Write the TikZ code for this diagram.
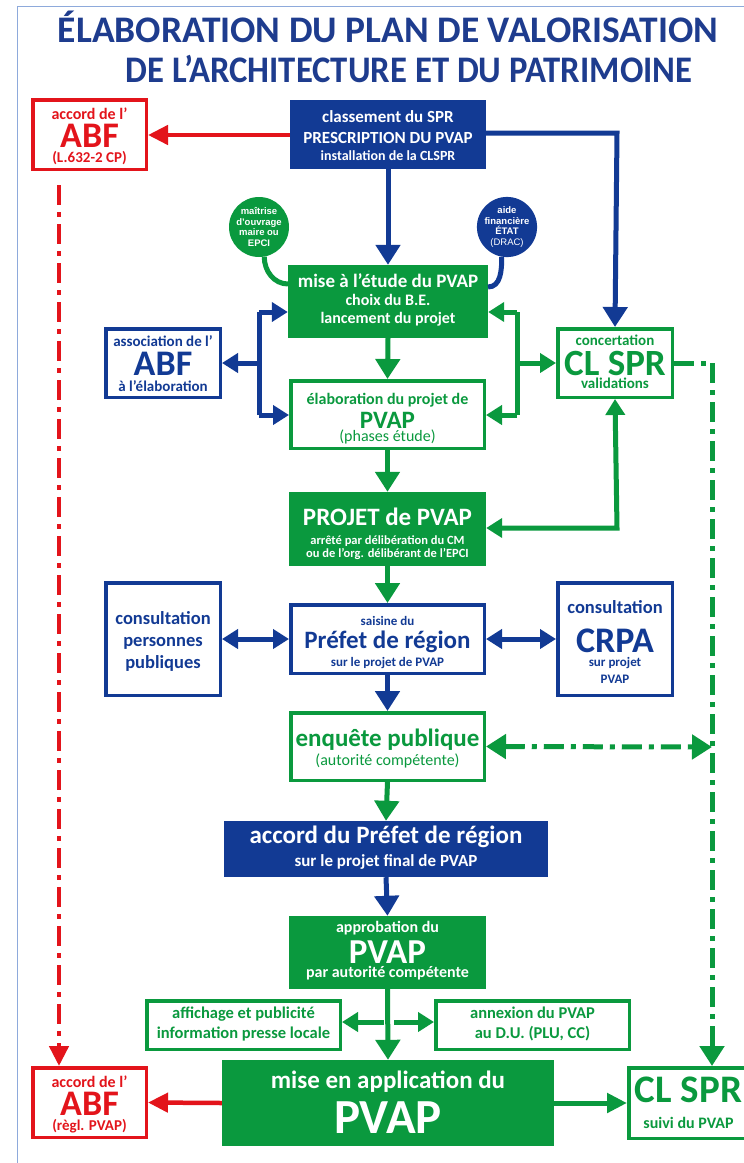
\documentclass[tikz,border=0pt]{standalone}
\usepackage{fontspec}
\setmainfont{Carlito}
\newfontfamily\arialf{Liberation Sans}
\usetikzlibrary{arrows.meta,calc}
\definecolor{pblue}{HTML}{123A94}
\definecolor{pgreen}{HTML}{0A993E}
\definecolor{pred}{HTML}{E3141B}
\definecolor{tblue}{HTML}{1E3C8E}
\definecolor{pframe}{HTML}{8EAADB}
% a centred stack of lines, each with a fixed height above its baseline
\newdimen\mytmpdim
\newcommand\Stack[1]{\vbox{\baselineskip=0pt\lineskip=0pt\lineskiplimit=0pt\halign{\hfil##\hfil\cr#1\crcr}}}
\newcommand\Ln[3]{\fontsize{#1}{#1}\selectfont\smash{#3}\rule{0pt}{#2pt}}
\newcommand\Ld[4]{\mytmpdim=#2pt\advance\mytmpdim by #3pt\relax\fontsize{#1}{#1}\selectfont\smash{#4}\rule[-#3pt]{0pt}{\mytmpdim}}
\begin{document}
\begin{tikzpicture}[x=1pt,y=-1pt,
  every node/.style={inner sep=0pt, font=\bfseries\fontsize{14}{17}\selectfont},
  bfill/.style={fill=pblue, text=white},
  gfill/.style={fill=pgreen, text=white},
  bout/.style={draw=pblue, line width=3.5pt, fill=white, text=pblue},
  gout/.style={draw=pgreen, line width=3.5pt, fill=white, text=pgreen},
  rout/.style={draw=pred, line width=3.5pt, fill=white, text=pred},
  circtext/.style={circle, align=center, minimum size=60pt, text=white, font=\arialf\bfseries\fontsize{9.5}{10.5}\selectfont},
  bcon/.style={draw=pblue, line width=5pt},
  gcon/.style={draw=pgreen, line width=5pt},
  rcon/.style={draw=pred, line width=4.5pt},
  bigtip/.style={-{Triangle[length=20pt,width=24pt]}},
  smalltip/.style={-{Triangle[length=16pt,width=19pt]}},
  dbltip/.style={{Triangle[length=16pt,width=19pt]}-{Triangle[length=16pt,width=19pt]}},
  rtip/.style={-{Triangle[length=20pt,width=19pt]}},
  dashdot/.style={dash pattern=on 20pt off 7pt on 5pt off 7pt},
  titletext/.style={text=tblue, anchor=base, font=\bfseries\fontsize{37.5}{37.5}\selectfont},
]
\useasboundingbox (0,0) rectangle (744,1163);
\fill[white] (0,0) rectangle (744,1163);
% frame
\draw[pframe, line width=1pt] (17,1163) -- (17,6) -- (744,6);
% title
\node[titletext] (t1) at (388,42) {ÉLABORATION DU PLAN DE VALORISATION};
\node[titletext, xscale=0.925] (t2) at (409,82) {DE L’ARCHITECTURE ET DU PATRIMOINE};

% boxes
\node[rout, minimum width=113.5pt, minimum height=69.5pt] (abf1) at (89.5,134.5)
  {\Stack{\Ln{16}{19.25}{accord de l’}\cr\Ln{36}{28}{ABF}\cr\Ld{15}{15}{7.25}{(L.632-2 CP)}}};
\node[bfill, minimum width=196pt, minimum height=69pt] (top) at (388,134.5)
  {\Stack{\Ln{17}{22}{classement du SPR}\cr\Ln{17}{21}{PRESCRIPTION DU PVAP}\cr\Ld{14}{17}{9}{installation de la CLSPR}}};
\node[circtext, fill=pgreen] (c1) at (259,227)
  {maîtrise\\d’ouvrage\\maire ou\\EPCI};
\node[circtext, fill=pblue] (c2) at (507,227)
  {aide\\financière\\ÉTAT\\{\mdseries(DRAC)}};
\node[gfill, minimum width=200pt, minimum height=73pt] (mise) at (388,301.5)
  {\Stack{\Ln{19}{22}{mise à l’étude du PVAP}\cr\Ln{16}{18}{choix du B.E.}\cr\Ld{16}{18}{15}{lancement du projet}}};
\node[bout, minimum width=114.5pt, minimum height=68.5pt] (abfa) at (163,363)
  {\Stack{\Ln{15}{17.25}{association de l’}\cr\Ln{36}{29}{ABF}\cr\Ld{15}{16}{6.25}{à l’élaboration}}};
\node[gout, minimum width=114.5pt, minimum height=68.5pt] (clspr) at (615,363)
  {\Stack{\Ln{15}{16.25}{concertation}\cr\Ln{37}{30}{CL SPR}\cr\Ld{15}{13}{9.25}{validations}}};
\node[gout, minimum width=193.5pt, minimum height=67.5pt] (elab) at (387.5,414.5)
  {\Stack{\Ln{16}{23.25}{élaboration du projet de}\cr\Ln{25}{24}{PVAP}\cr\Ld{16}{13}{7.25}{\mdseries(phases étude)}}};
\node[gfill, minimum width=197pt, minimum height=74pt] (projet) at (387.5,529)
  {\Stack{\Ln{25}{33}{PROJET de PVAP}\cr\Ln{12.5}{19}{arrêté par délibération du CM}\cr\Ld{12.5}{13}{9}{ou de l’org. délibérant de l’EPCI}}};
\node[bout, minimum width=114.5pt, minimum height=112.5pt] (cpp) at (163,639)
  {\Stack{\Ln{18.5}{41.25}{consultation}\cr\Ln{18.5}{22}{personnes}\cr\Ld{18.5}{22}{27.25}{publiques}}};
\node[bout, minimum width=193.5pt, minimum height=68.5pt] (saisine) at (387.5,639)
  {\Stack{\Ln{13}{20.25}{saisine du}\cr\Ln{25}{23}{Préfet de région}\cr\Ld{13}{18}{7.25}{sur le projet de PVAP}}};
\node[bout, minimum width=114.5pt, minimum height=112.5pt] (crpa) at (615,639)
  {\Stack{\Ln{18.5}{30.25}{consultation}\cr\Ln{36}{39}{CRPA}\cr\Ln{13}{14}{sur projet}\cr\Ld{13}{17}{12.25}{PVAP}}};
\node[gout, minimum width=193.5pt, minimum height=67.5pt] (enq) at (387.5,746.5)
  {\Stack{\Ln{25}{33.25}{enquête publique}\cr\Ld{16}{19}{15.25}{\mdseries(autorité compétente)}}};
\node[bfill, minimum width=324pt, minimum height=56pt] (accord) at (386,849)
  {\Stack{\Ln{25}{22}{accord du Préfet de région}\cr\Ld{17}{23}{11}{sur le projet final de PVAP}}};
\node[gfill, minimum width=197pt, minimum height=73pt] (approb) at (387.5,952.5)
  {\Stack{\Ln{16}{16}{approbation du}\cr\Ln{35}{31}{PVAP}\cr\Ld{16}{14}{12}{par autorité compétente}}};
\node[gout, minimum width=193.5pt, minimum height=48.5pt] (affi) at (243.5,1025)
  {\Stack{\Ln{16.5}{17.25}{affichage et publicité}\cr\Ld{16.5}{20}{11.25}{information presse locale}}};
\node[gout, minimum width=193.5pt, minimum height=48.5pt] (annex) at (532.5,1025)
  {\Stack{\Ln{16.5}{17.25}{annexion du PVAP}\cr\Ld{16.5}{20}{11.25}{au D.U. (PLU, CC)}}};
\node[gfill, minimum width=332pt, minimum height=86pt] (app) at (388,1103)
  {\Stack{\Ln{25}{28}{mise en application du}\cr\Ld{49}{45}{13}{PVAP}}};
\node[rout, minimum width=113.5pt, minimum height=69.5pt] (abf2) at (89.5,1102.5)
  {\Stack{\Ln{16}{19.25}{accord de l’}\cr\Ln{36}{28}{ABF}\cr\Ld{15}{15}{7.25}{(règl. PVAP)}}};
\node[gout, minimum width=119.5pt, minimum height=70.5pt] (clspr2) at (688.5,1103)
  {\Stack{\Ln{39}{34.25}{CL SPR}\cr\Ld{16}{26}{10.25}{suivi du PVAP}}};

% junction coordinates
\coordinate (jlt) at (259,312);
\coordinate (jlb) at (259,415);
\coordinate (jlm) at (259,363);
\coordinate (jrt) at (517,312);
\coordinate (jrb) at (517,415);
\coordinate (jrm) at (517,363);
\coordinate (cbend) at (617,133);
\coordinate (pbend) at (617,528);
\coordinate (rdtop) at (59,185);
\coordinate (gdtop) at (712,363);
\coordinate (edash) at (712,747);
\coordinate (m1) at (288,284);
\coordinate (m2) at (488,287);
\coordinate (split) at (389,1022);

% connectors
\draw[rcon, rtip] (top.west |- 0,135) -- (abf1.east |- 0,135);
\draw[rcon, rtip, dashdot] (rdtop) -- (rdtop |- abf2.north);
\draw[bcon, bigtip] (top.south) -- (mise.north);
\draw[bcon, bigtip] (top.east |- cbend) -- (cbend) -- (clspr.north);
\draw[pgreen, line width=5pt] (c1.-80) to[out=-90,in=180] (m1);
\draw[pblue, line width=5pt] (c2.-100) to[out=-90,in=0] (m2);
% left bracket
\draw[bcon] (jlt) -- (jlb);
\draw[bcon, smalltip] (jlm) -- (abfa.east);
\draw[bcon, smalltip] (jlt) -- (jlt -| mise.west);
\draw[bcon, smalltip] (jlb) -- (jlb -| elab.west);
% right bracket
\draw[gcon] (jrt) -- (jrb);
\draw[gcon, smalltip] (jrm) -- (clspr.west);
\draw[gcon, smalltip] (jrt) -- (jrt -| mise.east);
\draw[gcon, smalltip] (jrb) -- (jrb -| elab.east);
% main flow
\draw[gcon, bigtip] (mise.south) -- (elab.north);
\draw[gcon, bigtip] (elab.south) -- (projet.north);
\draw[gcon, dbltip] (clspr.south) -- (pbend) -- (pbend -| projet.east);
\draw[gcon, dashdot] (clspr.east) -- (gdtop);
\draw[gcon, dashdot, bigtip] (gdtop) -- (gdtop |- clspr2.north);
\draw[gcon, bigtip] (projet.south) -- (saisine.north);
\draw[bcon, dbltip] (cpp.east) -- (saisine.west);
\draw[bcon, dbltip] (saisine.east) -- (crpa.west);
\draw[bcon, bigtip] (saisine.south) -- (enq.north);
\draw[gcon, dashdot, {Triangle[length=20pt,width=24pt]}-{Triangle[length=20pt,width=24pt]}] (enq.east) -- (edash);
\draw[gcon, bigtip] (enq.south) -- (accord.north);
\draw[bcon, bigtip] (accord.south) -- (approb.north);
\draw[gcon, bigtip] (approb.south) -- (app.north);
\draw[gcon, smalltip] ([xshift=-5pt]split) -- (split -| affi.east);
\draw[gcon, smalltip] ([xshift=5pt]split) -- (split -| annex.west);
\draw[rcon, rtip] (app.west) -- (abf2.east);
\draw[gcon, rtip] (app.east) -- (clspr2.west);
\end{tikzpicture}
\end{document}
